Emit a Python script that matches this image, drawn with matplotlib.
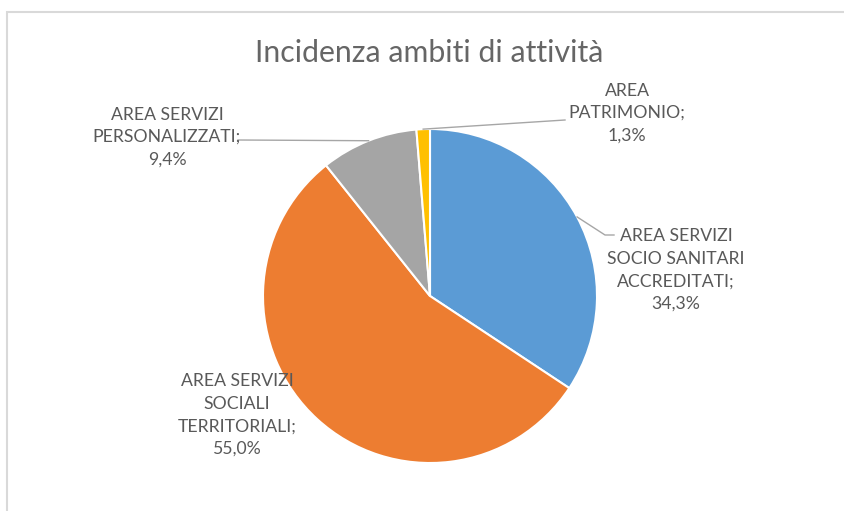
import numpy as np
import matplotlib.pyplot as plt
from matplotlib.patches import Rectangle

W, H = 844, 511

labels = ["AREA SERVIZI\nSOCIO SANITARI\nACCREDITATI;",
          "AREA SERVIZI\nSOCIALI\nTERRITORIALI;",
          "AREA SERVIZI\nPERSONALIZZATI;",
          "AREA\nPATRIMONIO;"]
values = [34.3, 55.0, 9.4, 1.3]
colors = ["#5B9BD5", "#ED7D31", "#A5A5A5", "#FFC000"]
title = "Incidenza ambiti di attività"

# label box centres (px, top-left origin) and leader end points
label_pos = [(676, 270), (237, 415), (167, 137), (627, 113)]
leader_end = [[(605, 235), (614, 235)], None, [(238, 140)], [(565, 120)]]

cx, cy, r = 430, 296, 167

fig = plt.figure(figsize=(W / 100, H / 100), dpi=100)
ax = fig.add_axes([0, 0, 1, 1])
ax.set_xlim(0, W)
ax.set_ylim(0, H)
ax.axis("off")

def Y(py):
    return H - py

# chart frame
ax.add_patch(Rectangle((7, -20), W + 20, Y(12) + 20, fill=False,
                       edgecolor="#d9d9d9", linewidth=1.5))

wedges, _ = ax.pie(values, colors=colors, startangle=90, counterclock=False,
                   center=(cx, Y(cy)), radius=r,
                   wedgeprops=dict(edgecolor="white", linewidth=1.5))
ax.set_xlim(0, W)
ax.set_ylim(0, H)

ax.text(429, Y(62), title, ha="center", va="baseline", fontsize=21.8,
        family="Lato", color="#666666")

for w, lab, v, (lx, ly), ends in zip(wedges, labels, values, label_pos, leader_end):
    txt = lab + "\n" + f"{v:.1f}".replace(".", ",") + "%"
    ax.text(lx, Y(ly), txt, ha="center", va="center", fontsize=12.7,
            family="Lato", color="#595959", linespacing=1.5)
    if ends:
        mid = np.deg2rad((w.theta1 + w.theta2) / 2)
        px = cx + r * np.cos(mid)
        py = cy - r * np.sin(mid)
        xs = [px] + [e[0] for e in ends]
        ys = [Y(py)] + [Y(e[1]) for e in ends]
        ax.plot(xs, ys, color="#a6a6a6", linewidth=1)

fig.savefig("out.png", dpi=100)
